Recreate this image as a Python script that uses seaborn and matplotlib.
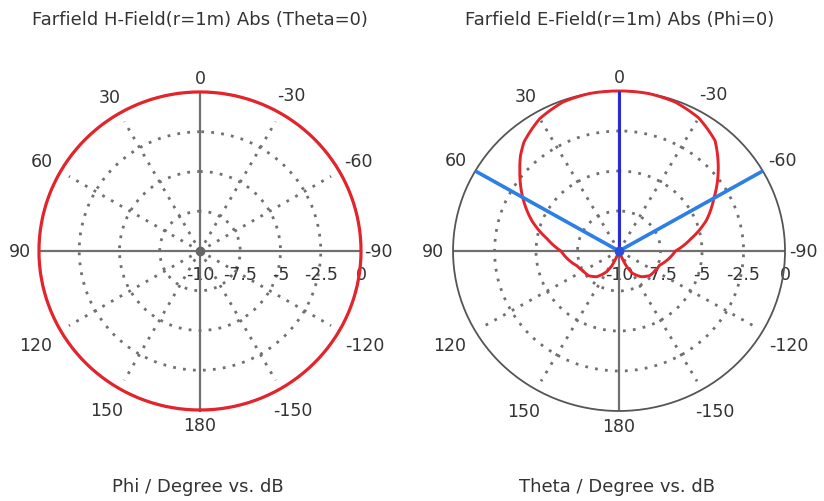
import numpy as np
import pandas as pd
import matplotlib
matplotlib.use("Agg")
import matplotlib.pyplot as plt
from matplotlib.transforms import ScaledTranslation
import seaborn as sns

# Angular grid labels (degrees, counter-clockwise from the top)
angle_ticks = [0, 30, 60, 90, 120, 150, 180, 210, 240, 270, 300, 330]
angle_labels = ["0", "30", "60", "90", "120", "150", "180",
                "-150", "-120", "-90", "-60", "-30"]

# Radial scale in dB
r_ticks = [-10, -7.5, -5, -2.5, 0]
r_tick_labels = ["-10", "-7.5", "-5", "-2.5", "0"]
ring_levels = [-7.5, -5, -2.5]

# H-field cut (Theta = 0): Phi in degrees, magnitude in dB
phi_deg = [-180, -170, -160, -150, -140, -130, -120, -110, -100, -90,
           -80, -70, -60, -50, -40, -30, -20, -10, 0, 10, 20, 30, 40, 50,
           60, 70, 80, 90, 100, 110, 120, 130, 140, 150, 160, 170, 180]
h_field_db = [0.0, 0.0, 0.0, 0.0, 0.0, 0.0, 0.0, 0.0, 0.0, 0.0,
              0.0, 0.0, 0.0, 0.0, 0.0, 0.0, 0.0, 0.0, 0.0, 0.0, 0.0, 0.0,
              0.0, 0.0, 0.0, 0.0, 0.0, 0.0, 0.0, 0.0, 0.0, 0.0, 0.0, 0.0,
              0.0, 0.0, 0.0]

# E-field cut (Phi = 0): Theta in degrees, magnitude in dB
theta_deg = [-180, -170, -160, -155, -150, -140, -130, -120, -110, -100,
             -90, -80, -70, -60, -50, -45, -40, -30, -20, -10, 0, 10, 20,
             30, 40, 45, 50, 60, 70, 80, 90, 100, 110, 120, 130, 140, 150,
             155, 160, 170, 180]
e_field_db = [-10.0, -10.0, -10.0, -9.0, -8.4, -7.9, -7.6, -7.5, -7.4, -7.0,
              -6.6, -5.6, -4.4, -3.4, -2.2, -1.6, -1.0, -0.4, -0.1, 0.0, 0.0,
              0.0, -0.1, -0.45, -1.1, -1.6, -2.2, -3.3, -4.4, -5.6, -6.5,
              -6.9, -7.3, -7.5, -7.6, -7.9, -8.5, -9.0, -10.0, -10.0, -10.0]

# Main-lobe direction and the -3 dB beam edges
main_lobe_deg = [0]
beam_edges_deg = [-60, 60]

sns.set_theme(style="white")
plt.rcParams["font.family"] = ["DejaVu Sans"]

TEXT = "#333333"
GRID = "#707070"
RED = "#e3242b"
DOTS = (0, (1.0, 2.6))

# distance of each angle label from the centre, as a fraction of the outer ring
label_radius = [1.09, 1.12, 1.135, 1.12, 1.18, 1.155, 1.095,
                1.155, 1.18, 1.11, 1.135, 1.13]

fig = plt.figure(figsize=(8.24, 5.02), dpi=100)
fig.patch.set_facecolor("white")
ax_h = fig.add_axes([0.0473, 0.1813, 0.3908, 0.6335], projection="polar")
ax_e = fig.add_axes([0.5498, 0.1793, 0.4029, 0.6375], projection="polar")


def style_polar(ax):
    ax.set_aspect("auto")
    ax.set_theta_zero_location("N")
    ax.set_theta_direction(1)
    ax.set_ylim(r_ticks[0], r_ticks[-1])
    ax.set_facecolor("white")
    ax.spines["polar"].set_color("#555555")
    ax.spines["polar"].set_linewidth(1.3)
    ax.set_xticks(np.deg2rad(angle_ticks))
    ax.set_xticklabels([])
    ax.xaxis.grid(False)
    ax.tick_params(axis="x", length=0)
    ax.set_yticks(ring_levels)
    ax.set_yticklabels([])
    ax.yaxis.grid(True, color=GRID, linestyle=DOTS, linewidth=2.0)
    span = r_ticks[-1] - r_ticks[0]
    for a, lab, f in zip(angle_ticks, angle_labels, label_radius):
        ax.text(np.deg2rad(a), r_ticks[0] + span * f, lab, ha="center",
                va="center", fontsize=12.5, color=TEXT, clip_on=False)
    # spokes: solid main axes, dotted intermediate directions
    for a in angle_ticks:
        t = np.deg2rad(a)
        if a % 90 == 0:
            ax.plot([t, t], [r_ticks[0], r_ticks[-1]], color=GRID, lw=1.6,
                    solid_capstyle="butt", zorder=2)
        else:
            ax.plot([t, t], [-9.4, -0.6], color=GRID, lw=2.0,
                    linestyle=DOTS, zorder=2)
    # radial scale labels under the right-hand axis
    offset = ScaledTranslation(0, -23 / 100, fig.dpi_scale_trans)
    for r, lab in zip(r_ticks, r_tick_labels):
        ax.text(np.deg2rad(-90), r, lab, transform=ax.transData + offset,
                ha="center", va="center", fontsize=12.5, color=TEXT,
                clip_on=False, zorder=1)


style_polar(ax_h)
style_polar(ax_e)

# H-field pattern
df_h = pd.DataFrame({"phi": np.deg2rad(phi_deg), "db": h_field_db})
sns.lineplot(data=df_h, x="phi", y="db", ax=ax_h, sort=False, estimator=None,
             color=RED, lw=2.3, legend=False, zorder=5)
ax_h.plot([0], [r_ticks[0]], "o", color="#666666", ms=6, zorder=6)

# E-field pattern
df_e = pd.DataFrame({"theta": np.deg2rad(theta_deg), "db": e_field_db})
sns.lineplot(data=df_e, x="theta", y="db", ax=ax_e, sort=False, estimator=None,
             color=RED, lw=2.1, legend=False, zorder=5)
for a in beam_edges_deg:
    t = np.deg2rad(a)
    ax_e.plot([t, t], [r_ticks[0], r_ticks[-1]], color="#2b7fe6", lw=2.6,
              solid_capstyle="butt", zorder=6)
for a in main_lobe_deg:
    t = np.deg2rad(a)
    ax_e.plot([t, t], [r_ticks[0], r_ticks[-1]], color="#2a2ad2", lw=2.2,
              solid_capstyle="butt", zorder=7)
ax_e.plot([0], [r_ticks[0]], "o", color="#2a50d8", ms=6, zorder=8)

for ax in (ax_h, ax_e):
    for line in ax.get_lines():
        line.set_clip_on(False)
        # follow the polar geometry between samples instead of chords
        line.get_path()._interpolation_steps = 60
    ax.set_xlabel("")
    ax.set_ylabel("")

fig.text(200 / 824, 1 - 20 / 502, "Farfield H-Field(r=1m) Abs (Theta=0)",
         ha="center", va="center", fontsize=13, color=TEXT)
fig.text(620 / 824, 1 - 20 / 502, "Farfield E-Field(r=1m) Abs (Phi=0)",
         ha="center", va="center", fontsize=13, color=TEXT)
fig.text(198 / 824, 1 - 487 / 502, "Phi / Degree vs. dB",
         ha="center", va="center", fontsize=13, color=TEXT)
fig.text(617 / 824, 1 - 487 / 502, "Theta / Degree vs. dB",
         ha="center", va="center", fontsize=13, color=TEXT)

fig.savefig("out.png", dpi=100, facecolor="white")
